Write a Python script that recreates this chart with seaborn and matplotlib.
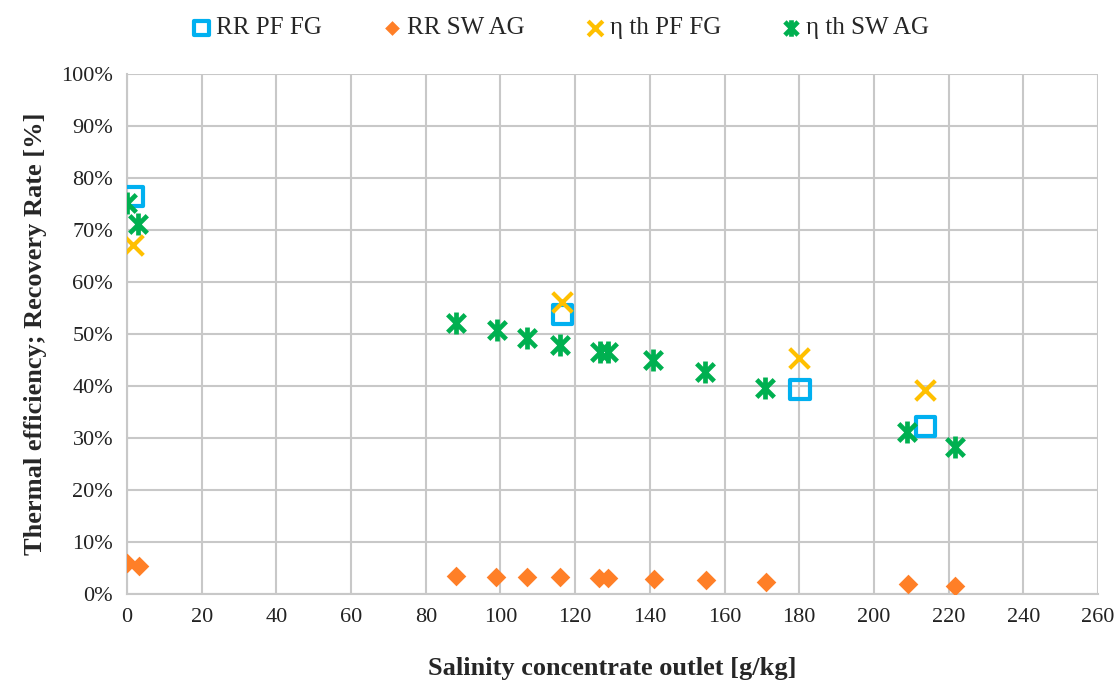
import numpy as np
import pandas as pd
import matplotlib
matplotlib.use("Agg")
import matplotlib.pyplot as plt
from matplotlib.path import Path
from matplotlib.ticker import PercentFormatter, MultipleLocator
import seaborn as sns

# ---- data ----
rr_pf_x = [1.8, 116.6, 180.2, 213.8]
rr_pf_y = [0.765, 0.537, 0.394, 0.322]

rr_sw_x = [0.0, 3.3, 88.2, 98.8, 107.2, 115.9, 126.4, 128.8, 141.0, 155.0, 171.0, 209.0, 221.8]
rr_sw_y = [0.059, 0.054, 0.035, 0.033, 0.032, 0.032, 0.030, 0.030, 0.028, 0.026, 0.023, 0.019, 0.015]

eta_pf_x = [1.7, 116.6, 180.0, 213.6]
eta_pf_y = [0.671, 0.561, 0.453, 0.392]

eta_sw_x = [0.1, 3.0, 88.1, 99.0, 107.0, 115.9, 126.6, 128.9, 140.9, 154.8, 170.8, 208.9, 221.7]
eta_sw_y = [0.751, 0.712, 0.521, 0.508, 0.492, 0.479, 0.466, 0.466, 0.450, 0.4275, 0.397, 0.312, 0.283]

series_names = ["RR PF FG", "RR SW AG", "η th PF FG", "η th SW AG"]
x_ticks = list(range(0, 261, 20))

sns.set_theme(style="white")
plt.rcParams['font.family'] = ['Liberation Serif', 'DejaVu Serif']

fig = plt.figure(figsize=(11.18, 6.93), dpi=100)
ax = fig.add_axes([127/1118, 1-594/693, (1098-127)/1118, (594-74)/693])

star = Path([(-1, -1), (1, 1), (-1, 1), (1, -1), (0, -1.25), (0, 1.25)],
            [Path.MOVETO, Path.LINETO, Path.MOVETO, Path.LINETO, Path.MOVETO, Path.LINETO])

df1 = pd.DataFrame({"x": rr_pf_x, "y": rr_pf_y})
df2 = pd.DataFrame({"x": rr_sw_x, "y": rr_sw_y})
df3 = pd.DataFrame({"x": eta_pf_x, "y": eta_pf_y})
df4 = pd.DataFrame({"x": eta_sw_x, "y": eta_sw_y})

sns.scatterplot(data=df1, x="x", y="y", ax=ax, marker="s", s=190,
                facecolor="none", edgecolor="#00B0F0", linewidth=3, label=series_names[0], zorder=3)
sns.scatterplot(data=df2, x="x", y="y", ax=ax, marker="D", s=100,
                color="#FF7F27", edgecolor="#FF7F27", linewidth=0, label=series_names[1], zorder=3)
sns.scatterplot(data=df3, x="x", y="y", ax=ax, marker="x", s=200,
                color="#FFC000", linewidth=3, label=series_names[2], zorder=3)
sns.scatterplot(data=df4, x="x", y="y", ax=ax, marker=star, s=250,
                color="#00B050", edgecolor="#00B050", linewidth=3.4, label=series_names[3], zorder=4)

ax.set_xlim(0, 260)
ax.set_ylim(0, 1.0)
ax.set_xticks(x_ticks)
ax.yaxis.set_major_locator(MultipleLocator(0.1))
ax.yaxis.set_major_formatter(PercentFormatter(1.0, decimals=0))
ax.grid(True, color="#C8C8C8", linewidth=1.5)
ax.set_axisbelow(True)
for sp in ["top", "right"]:
    ax.spines[sp].set_visible(False)
for sp in ["left", "bottom"]:
    ax.spines[sp].set_color("#C8C8C8")
    ax.spines[sp].set_linewidth(1.5)
ax.tick_params(axis="both", length=0, labelsize=16, colors="#222222", pad=10)

ax.set_xlabel("Salinity concentrate outlet [g/kg]", fontsize=19, fontweight="bold", labelpad=22)
ax.set_ylabel("Thermal efficiency; Recovery Rate [%]", fontsize=19, fontweight="bold", labelpad=10)

handles, labels = ax.get_legend_handles_labels()
if ax.legend_:
    ax.legend_.remove()
leg = fig.legend(handles, labels, loc="center", bbox_to_anchor=(0.5, 1-28/693), ncol=4,
                 frameon=False, fontsize=18, handletextpad=0.1, columnspacing=2.3,
                 markerscale=0.75, handlelength=1.0)

fig.savefig("out.png", dpi=100)
